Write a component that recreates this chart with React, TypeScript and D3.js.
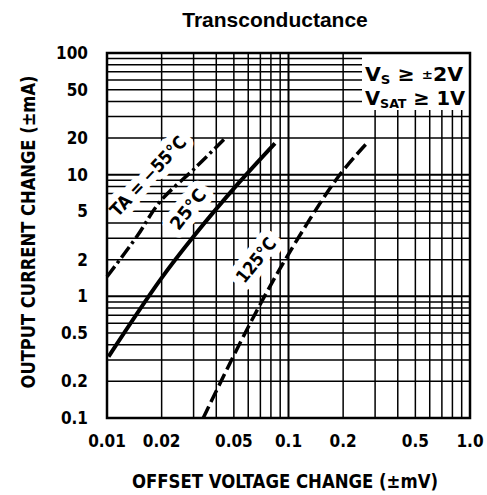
import * as d3 from 'd3';

const xTicks = [0.01, 0.02, 0.05, 0.1, 0.2, 0.5, 1.0];
const xTickLabels = ['0.01', '0.02', '0.05', '0.1', '0.2', '0.5', '1.0'];
const yTicks = [0.1, 0.2, 0.5, 1, 2, 5, 10, 20, 50, 100];
const yTickLabels = ['0.1', '0.2', '0.5', '1', '2', '5', '10', '20', '50', '100'];

// curves (offset mV, output mA)
const m55X = [0.01, 0.0146, 0.0196, 0.0305, 0.0447];
const m55Y = [1.45, 3.1, 6.0, 11.3, 19.9];
const c25X = [0.0102, 0.0196, 0.0299, 0.0529, 0.0842];
const c25Y = [0.32, 1.36, 3.09, 8.47, 18.1];
const c125X = [0.0339, 0.0576, 0.0957, 0.188, 0.27];
const c125Y = [0.1, 0.497, 1.99, 9.62, 18.1];

const W = 487;
const H = 495;
const left = 107, right = 470, top = 53, bottom = 418;
const FONT = '"Liberation Sans Narrow", "DejaVu Sans Condensed", "DejaVu Sans", sans-serif';

export default function App() {
    const x = d3.scaleLog().domain([0.01, 1]).range([left, right]);
    const y = d3.scaleLog().domain([0.1, 100]).range([bottom, top]);

    const gridX: number[] = [];
    [0.01, 0.1].forEach((d) => { for (let k = 1; k <= 9; k++) gridX.push(d * k); });
    gridX.push(1);
    const gridY: number[] = [];
    [0.1, 1, 10].forEach((d) => { for (let k = 1; k <= 9; k++) gridY.push(d * k); });
    gridY.push(100);

    const isMajor = (v: number) => Math.abs(Math.log10(v) - Math.round(Math.log10(v))) < 1e-6;

    const line = d3.line<[number, number]>()
        .x((d) => x(d[0]))
        .y((d) => y(d[1]))
        .curve(d3.curveCatmullRom.alpha(0.5));

    const zip = (xs: number[], ys: number[]) => xs.map((v, i) => [v, ys[i]] as [number, number]);

    const labels = [
        { cx: 149, cy: 177, rot: -47, len: 102, text: 'TA = −55°C' },
        { cx: 189, cy: 210, rot: -52, len: 46, text: '25°C' },
        { cx: 257, cy: 261, rot: -51, len: 52, text: '125°C' },
    ];

    return (
        <svg width={W} height={H} style={{ position: 'absolute', left: 0, top: 0, background: 'white' }}>
            <text x={275} y={27} textAnchor="middle" fontFamily="Liberation Sans, Arial, sans-serif" fontWeight="bold" fontSize={21}>
                Transconductance
            </text>

            {/* grid */}
            <g stroke="black">
                {gridX.map((v) => (
                    <line key={'gx' + v} x1={x(v)} x2={x(v)} y1={top} y2={bottom} strokeWidth={isMajor(v) ? 2 : 1.5} />
                ))}
                {gridY.map((v) => (
                    <line key={'gy' + v} x1={left} x2={right} y1={y(v)} y2={y(v)} strokeWidth={isMajor(v) ? 2 : 1.5} />
                ))}
            </g>

            {/* legend knockout */}
            <rect x={362} y={top} width={right - 362} height={110 - top} fill="white" />

            {/* label halos */}
            <g fontFamily={FONT} fontWeight="bold" fontSize={18} textAnchor="middle" dominantBaseline="middle">
                {labels.map((l, i) => (
                    <text key={'h' + i} transform={`translate(${l.cx},${l.cy}) rotate(${l.rot})`} textLength={l.len} lengthAdjust="spacingAndGlyphs"
                        stroke="white" strokeWidth={14} strokeLinejoin="round" fill="white">
                        {l.text}
                    </text>
                ))}
            </g>

            {/* curves */}
            <g fill="none" stroke="black" strokeWidth={3.5}>
                <path d={line(zip(m55X, m55Y)) || ''} strokeDasharray="13 4 3 4" />
                <path d={line(zip(c25X, c25Y)) || ''} strokeWidth={4} />
                <path d={line(zip(c125X, c125Y)) || ''} strokeDasharray="13 5" />
            </g>

            <g fontFamily={FONT} fontWeight="bold" fontSize={18} textAnchor="middle" dominantBaseline="middle">
                {labels.map((l, i) => (
                    <text key={'t' + i} transform={`translate(${l.cx},${l.cy}) rotate(${l.rot})`} textLength={l.len} lengthAdjust="spacingAndGlyphs">
                        {l.text}
                    </text>
                ))}
            </g>

            {/* frame */}
            <rect x={left} y={top} width={right - left} height={bottom - top} fill="none" stroke="black" strokeWidth={2.5} />

            {/* legend */}
            <g fontFamily={FONT} fontWeight="bold" fontSize={20}>
                <text x={365} y={81} textLength={98} lengthAdjust="spacingAndGlyphs">V<tspan fontSize={13} dy={3}>S</tspan><tspan dy={-3}> ≥ </tspan><tspan fontSize={13} dy={-2}>±</tspan><tspan dy={2}>2V</tspan></text>
                <text x={365} y={105} textLength={100} lengthAdjust="spacingAndGlyphs">V<tspan fontSize={13} dy={3}>SAT</tspan><tspan dy={-3}> ≥ 1V</tspan></text>
            </g>

            {/* tick labels */}
            <g fontFamily={FONT} fontWeight="bold" fontSize={17}>
                {yTicks.map((v, i) => (
                    <text key={'yt' + v} x={88} y={y(v) + 6} textAnchor="end">{yTickLabels[i]}</text>
                ))}
                {xTicks.map((v, i) => (
                    <text key={'xt' + v} x={x(v)} y={447} textAnchor="middle">{xTickLabels[i]}</text>
                ))}
            </g>

            {/* axis titles */}
            <text x={285} y={488} textAnchor="middle" fontFamily={FONT} fontWeight="bold" fontSize={20}
                textLength={306} lengthAdjust="spacingAndGlyphs">
                OFFSET VOLTAGE CHANGE (±mV)
            </text>
            <text transform="translate(35,232) rotate(-90)" textAnchor="middle" fontFamily={FONT} fontWeight="bold" fontSize={20}
                textLength={313} lengthAdjust="spacingAndGlyphs">
                OUTPUT CURRENT CHANGE (±mA)
            </text>
        </svg>
    );
}
